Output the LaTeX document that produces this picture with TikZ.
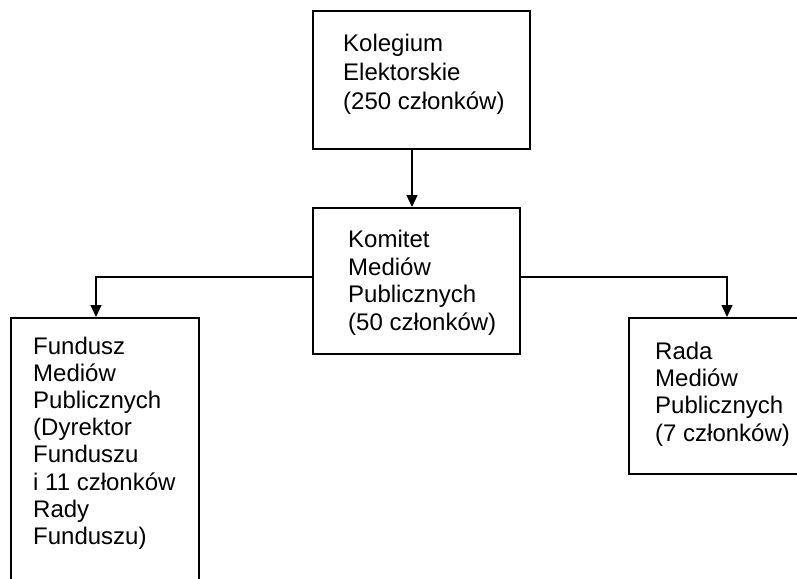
\documentclass[tikz,border=0pt]{standalone}
\usepackage{fontspec}
\setmainfont{Liberation Sans}
\usetikzlibrary{arrows.meta}
\tikzset{
  boxnode/.style={draw=black, line width=1.6pt, inner sep=0pt, anchor=north west},
  txt/.style={inner sep=0pt, anchor=north west, align=left},
  arr/.style={draw=black, line width=1.3pt, -{Triangle[length=12pt,width=11pt]}}
}
\begin{document}
\begin{tikzpicture}[x=1pt,y=-1pt]
\path[use as bounding box] (0,0) rectangle (797,578);
\clip (0,0) rectangle (797,578);
% boxes
\node[boxnode, minimum width=217pt, minimum height=138pt] (kol) at (312,10) {};
\node[boxnode, minimum width=207pt, minimum height=146pt] (kom) at (312,207) {};
\node[boxnode, minimum width=188pt, minimum height=320pt] (fund) at (10,317) {};
\node[boxnode, minimum width=220pt, minimum height=156pt] (rada) at (628,317) {};
% texts
\node[txt, font={\fontsize{24}{28.8}\selectfont}] (tkol) at (343,34) {Kolegium\\Elektorskie\\(250 członków)};
\node[txt, font={\fontsize{24}{27.6}\selectfont}] (tkom) at (348,230) {Komitet\\Mediów\\Publicznych\\(50 członków)};
\node[txt, font={\fontsize{24}{27.1}\selectfont}] (tfund) at (33,337) {Fundusz\\Mediów\\Publicznych\\(Dyrektor\\Funduszu\\i 11 członków\\Rady\\Funduszu)};
\node[txt, font={\fontsize{24}{27.2}\selectfont}] (trada) at (655,342) {Rada\\Mediów\\Publicznych\\(7 członków)};
% connector helpers
\coordinate (ax) at (412,0);
\coordinate (jl) at (96,277);
\coordinate (jr) at (727,277);
% connectors
\draw[arr] (kol.south -| ax) -- (kom.north -| ax);
\draw[arr] (kom.west |- jl) -| (fund.north -| jl);
\draw[arr] (kom.east |- jr) -| (rada.north -| jr);
\end{tikzpicture}
\end{document}
